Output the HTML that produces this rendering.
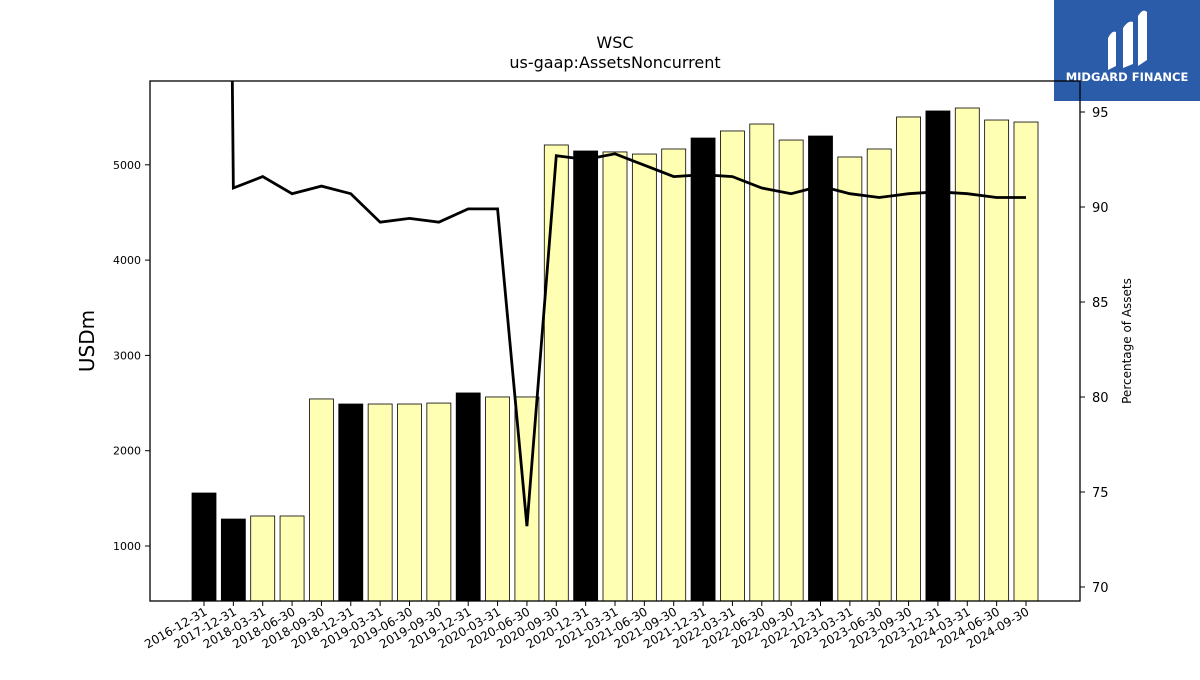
<!DOCTYPE html>
<html><head><meta charset="utf-8"><style>
body{margin:0;background:#fff;font-family:"Liberation Sans","DejaVu Sans",sans-serif;}
svg text{font-family:"DejaVu Sans","Liberation Sans",sans-serif;}
</style></head><body>
<svg id="chart" width="1200" height="675" xmlns="http://www.w3.org/2000/svg">
<rect width="1200" height="675" fill="#fff"/>
<text x="615" y="48" font-size="16" text-anchor="middle">WSC</text>
<text x="615" y="68" font-size="16" text-anchor="middle">us-gaap:AssetsNoncurrent</text>
<g>
<rect x="1054" y="0" width="146" height="101" fill="#2a5caa"/>
<path d="M1108 70 L1108 38 Q1112 30 1116 32 L1116 66 Z M1123 68 L1123 28 Q1128 20 1133 22 L1133 64 Z M1138 66 L1138 16 Q1143 8 1147 12 L1147 60 Z" fill="#fff"/>
<text x="1127" y="81" font-size="11.5" font-weight="bold" fill="#fff" text-anchor="middle">MIDGARD FINANCE</text>
</g>
<g id="bars"></g>
<g id="line"></g>
<rect x="150" y="81" width="930" height="520" fill="none" stroke="#000" stroke-width="1.3"/>
<g id="axes"></g>
<text transform="translate(94,341) rotate(-90)" font-size="20" text-anchor="middle">USDm</text>
<text transform="translate(1131,341) rotate(-90)" font-size="12" text-anchor="middle">Percentage of Assets</text>
<defs><clipPath id="clip"><rect x="150" y="81" width="930" height="520"/></clipPath></defs>
</svg>
<script>
const categories=["2016-12-31","2017-12-31","2018-03-31","2018-06-30","2018-09-30","2018-12-31","2019-03-31","2019-06-30","2019-09-30","2019-12-31","2020-03-31","2020-06-30","2020-09-30","2020-12-31","2021-03-31","2021-06-30","2021-09-30","2021-12-31","2022-03-31","2022-06-30","2022-09-30","2022-12-31","2023-03-31","2023-06-30","2023-09-30","2023-12-31","2024-03-31","2024-06-30","2024-09-30"];
const assetsValues=[1556,1283,1315,1315,2543,2490,2490,2490,2500,2606,2564,2564,5208,5145,5135,5113,5166,5281,5355,5428,5260,5302,5082,5166,5502,5565,5596,5470,5449];
const pctValues=[250,91.0,91.6,90.7,91.1,90.7,89.2,89.4,89.2,89.9,89.9,73.2,92.7,92.5,92.8,92.2,91.6,91.7,91.6,91.0,90.7,91.1,90.7,90.5,90.7,90.8,90.7,90.5,90.5];
const leftTicks=[1000,2000,3000,4000,5000];
const rightTicks=[70,75,80,85,90,95];
const NS="http://www.w3.org/2000/svg";
const yL=v=>601-(v-423)*0.0953;
const yR=v=>112+(95-v)*19;
const xC=i=>204+i*(1026-204)/(categories.length-1);
function mk(t,a,p){const e=document.createElementNS(NS,t);for(const k in a)e.setAttribute(k,a[k]);p.appendChild(e);return e;}
const bars=document.getElementById('bars'),axes=document.getElementById('axes'),line=document.getElementById('line');
categories.forEach((c,i)=>{
 const ye=c.endsWith('12-31');
 const r=mk('rect',{x:xC(i)-12,y:yL(assetsValues[i]),width:24,height:601-yL(assetsValues[i]),fill:ye?'#000':'#ffffb3',stroke:'#000','stroke-width':0.8},bars);
 
 
 mk('line',{x1:xC(i),x2:xC(i),y1:601,y2:606,stroke:'#000'},axes);
 const t=mk('text',{transform:`translate(${xC(i)+4},${614}) rotate(-30)`,'font-size':12,'text-anchor':'end'},axes);
 t.textContent=c;
 
 
});
leftTicks.forEach(v=>{
 mk('line',{x1:145,x2:150,y1:yL(v),y2:yL(v),stroke:'#000'},axes);
 const t=mk('text',{x:141,y:yL(v)+4,'font-size':11,'text-anchor':'end'},axes);
 t.textContent=v;
 
 
});
rightTicks.forEach(v=>{
 mk('line',{x1:1080,x2:1085,y1:yR(v),y2:yR(v),stroke:'#000'},axes);
 const t=mk('text',{x:1092,y:yR(v)+5,'font-size':13},axes);
 t.textContent=v;
 
 
});
const p=mk('polyline',{points:pctValues.map((v,i)=>xC(i)+','+yR(v)).join(' '),fill:'none',stroke:'#000','stroke-width':2.8,'clip-path':'url(#clip)'},line);


</script>
</body></html>
